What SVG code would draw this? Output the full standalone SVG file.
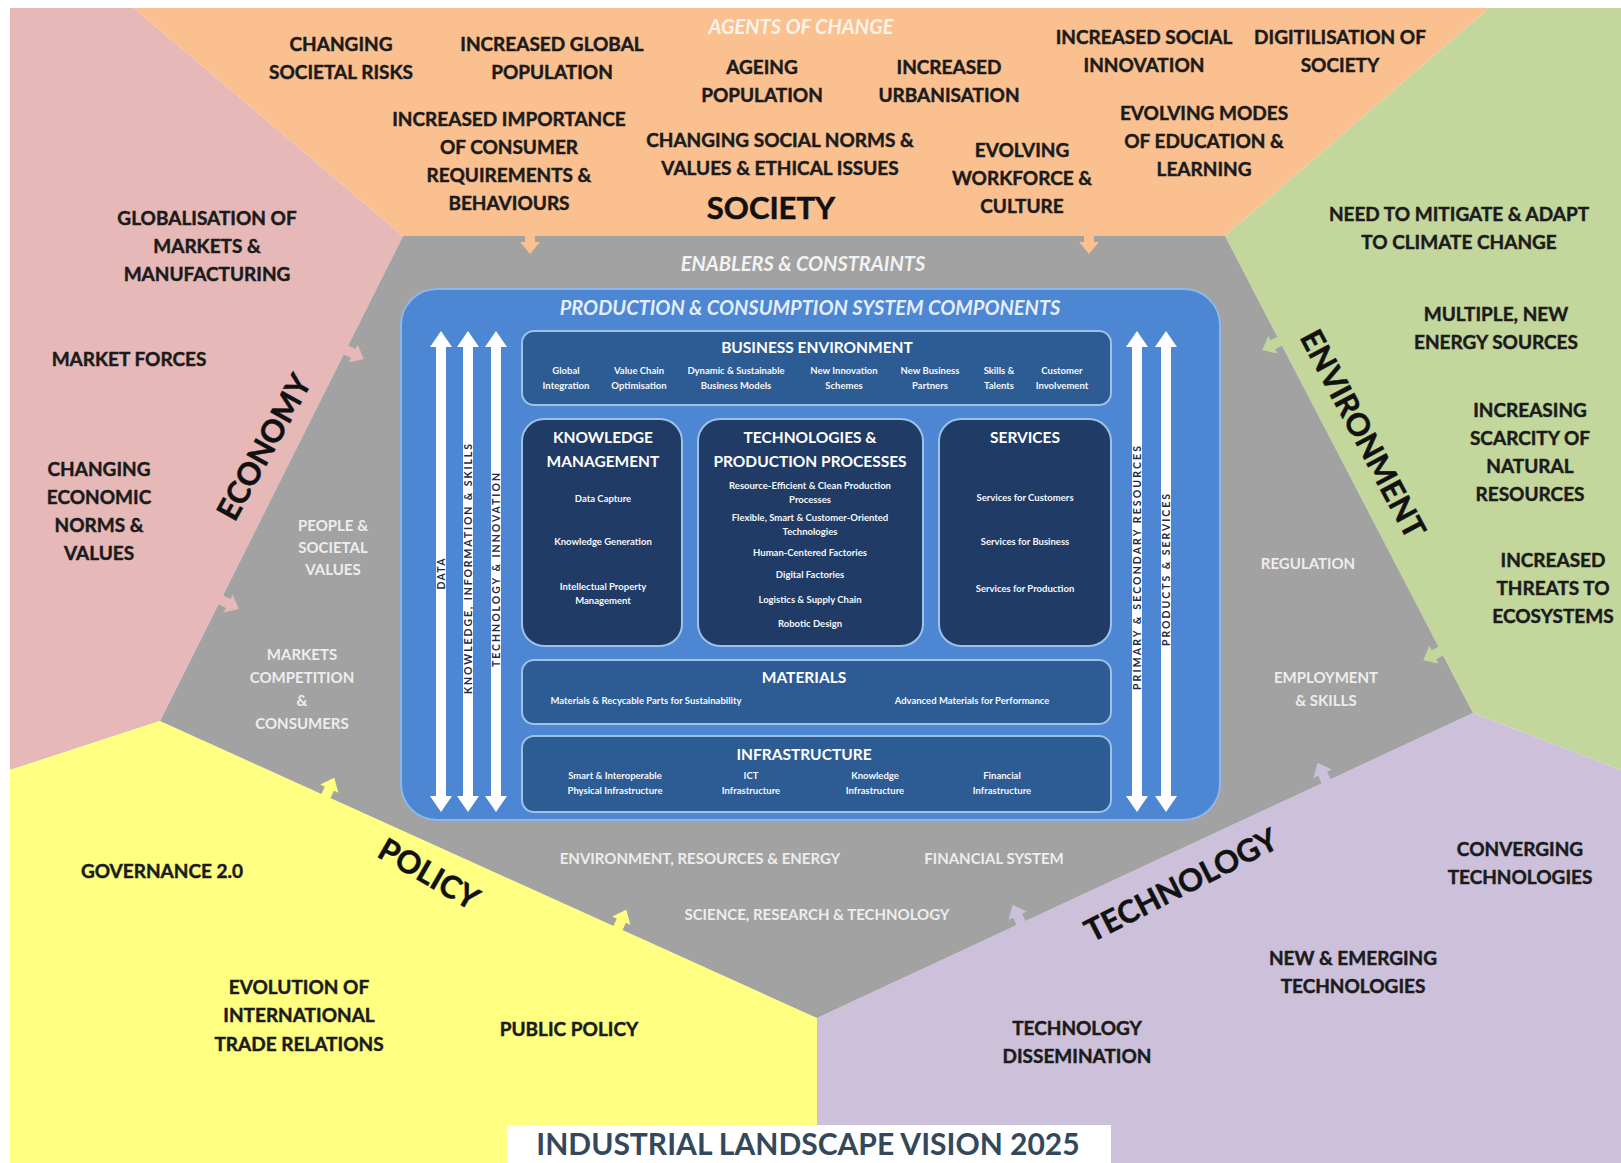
<svg xmlns="http://www.w3.org/2000/svg" width="1621" height="1163" viewBox="0 0 1621 1163">
<style>
text{font-family:Lato,"Liberation Sans",sans-serif;font-weight:700;text-anchor:middle}
.lbl{font-size:19px;fill:#1b1b1b;stroke:#1b1b1b;stroke-width:0.45}
.cat{font-size:31px;fill:#111;stroke:#111;stroke-width:0.5}
.gl{font-size:15px;fill:#ededed}
.it{font-style:italic;font-size:20px}
.bh{font-size:15.5px;fill:#fff}
.bi{font-size:9.5px;fill:#f4f7fb}
.al{font-size:10.5px;fill:#1d2b45}
.inA{fill:#2d5b94;stroke:#9cc2e8;stroke-width:2}
.inB{fill:#1f3b66;stroke:#9cc2e8;stroke-width:2}
.dbl{fill:#fff}
</style>
<defs>
<path id="dArrow" d="M0,0 L11,16 L5,16 L5,465 L11,465 L0,481 L-11,465 L-5,465 L-5,16 L-11,16 Z"/>
<path id="bArrow" d="M-6,-5 L8,-5 L8,-10 L20,0 L8,10 L8,5 L-6,5 Z"/>
</defs>
<rect width="1621" height="1163" fill="#fff"/>
<g id="economy">
<polygon points="10,8 134,8 403,236 160,721 10,770" fill="#e6b9b8"/>
<text class="lbl" x="207" y="225">GLOBALISATION OF</text>
<text class="lbl" x="207" y="253">MARKETS &amp;</text>
<text class="lbl" x="207" y="281">MANUFACTURING</text>
<text class="lbl" x="129" y="366">MARKET FORCES</text>
<text class="lbl" x="99" y="476">CHANGING</text>
<text class="lbl" x="99" y="504">ECONOMIC</text>
<text class="lbl" x="99" y="532">NORMS &amp;</text>
<text class="lbl" x="99" y="560">VALUES</text>
<text class="cat" transform="translate(264,447) rotate(-61)" y="11">ECONOMY</text>
</g>
<g id="society">
<polygon points="134,8 1489,8 1225,236 403,236" fill="#fac090"/>
<text class="it" x="801" y="34" fill="#fdf3ea">AGENTS OF CHANGE</text>
<text class="lbl" x="341" y="51">CHANGING</text>
<text class="lbl" x="341" y="79">SOCIETAL RISKS</text>
<text class="lbl" x="552" y="51">INCREASED GLOBAL</text>
<text class="lbl" x="552" y="79">POPULATION</text>
<text class="lbl" x="762" y="74">AGEING</text>
<text class="lbl" x="762" y="102">POPULATION</text>
<text class="lbl" x="949" y="74">INCREASED</text>
<text class="lbl" x="949" y="102">URBANISATION</text>
<text class="lbl" x="1144" y="44">INCREASED SOCIAL</text>
<text class="lbl" x="1144" y="72">INNOVATION</text>
<text class="lbl" x="1340" y="44">DIGITILISATION OF</text>
<text class="lbl" x="1340" y="72">SOCIETY</text>
<text class="lbl" x="509" y="126">INCREASED IMPORTANCE</text>
<text class="lbl" x="509" y="154">OF CONSUMER</text>
<text class="lbl" x="509" y="182">REQUIREMENTS &amp;</text>
<text class="lbl" x="509" y="210">BEHAVIOURS</text>
<text class="lbl" x="780" y="147">CHANGING SOCIAL NORMS &amp;</text>
<text class="lbl" x="780" y="175">VALUES &amp; ETHICAL ISSUES</text>
<text class="lbl" x="1022" y="157">EVOLVING</text>
<text class="lbl" x="1022" y="185">WORKFORCE &amp;</text>
<text class="lbl" x="1022" y="213">CULTURE</text>
<text class="lbl" x="1204" y="120">EVOLVING MODES</text>
<text class="lbl" x="1204" y="148">OF EDUCATION &amp;</text>
<text class="lbl" x="1204" y="176">LEARNING</text>
<text class="cat" x="771" y="219" font-size="30">SOCIETY</text>
</g>
<g id="environment">
<polygon points="1489,8 1621,8 1621,770 1473,713 1225,236" fill="#c3d69b"/>
<text class="lbl" x="1459" y="221">NEED TO MITIGATE &amp; ADAPT</text>
<text class="lbl" x="1459" y="249">TO CLIMATE CHANGE</text>
<text class="lbl" x="1496" y="321">MULTIPLE, NEW</text>
<text class="lbl" x="1496" y="349">ENERGY SOURCES</text>
<text class="lbl" x="1530" y="417">INCREASING</text>
<text class="lbl" x="1530" y="445">SCARCITY OF</text>
<text class="lbl" x="1530" y="473">NATURAL</text>
<text class="lbl" x="1530" y="501">RESOURCES</text>
<text class="lbl" x="1553" y="567">INCREASED</text>
<text class="lbl" x="1553" y="595">THREATS TO</text>
<text class="lbl" x="1553" y="623">ECOSYSTEMS</text>
<text class="cat" transform="translate(1363,434) rotate(62)" y="11">ENVIRONMENT</text>
</g>
<g id="policy">
<polygon points="10,770 160,721 817,1018 817,1163 10,1163" fill="#ffff82"/>
<text class="lbl" x="162" y="878">GOVERNANCE 2.0</text>
<text class="lbl" x="299" y="994">EVOLUTION OF</text>
<text class="lbl" x="299" y="1022">INTERNATIONAL</text>
<text class="lbl" x="299" y="1051">TRADE RELATIONS</text>
<text class="lbl" x="569" y="1036">PUBLIC POLICY</text>
<text class="cat" transform="translate(429,874) rotate(30)" y="11">POLICY</text>
</g>
<g id="technology">
<polygon points="817,1018 1473,713 1621,770 1621,1163 817,1163" fill="#ccc0da"/>
<text class="lbl" x="1520" y="856">CONVERGING</text>
<text class="lbl" x="1520" y="884">TECHNOLOGIES</text>
<text class="lbl" x="1353" y="965">NEW &amp; EMERGING</text>
<text class="lbl" x="1353" y="993">TECHNOLOGIES</text>
<text class="lbl" x="1077" y="1035">TECHNOLOGY</text>
<text class="lbl" x="1077" y="1063">DISSEMINATION</text>
<text class="cat" transform="translate(1181,885) rotate(-27)" y="11">TECHNOLOGY</text>
</g>
<g id="enablers">
<polygon points="403,236 1225,236 1473,713 817,1018 160,721" fill="#a2a2a2"/>
<text class="it" x="803" y="271" fill="#f2f2f2">ENABLERS &amp; CONSTRAINTS</text>
<text class="gl" x="333" y="531">PEOPLE &amp;</text>
<text class="gl" x="333" y="553">SOCIETAL</text>
<text class="gl" x="333" y="575">VALUES</text>
<text class="gl" x="302" y="660">MARKETS</text>
<text class="gl" x="302" y="683">COMPETITION</text>
<text class="gl" x="302" y="706">&amp;</text>
<text class="gl" x="302" y="729">CONSUMERS</text>
<text class="gl" x="1308" y="569">REGULATION</text>
<text class="gl" x="1326" y="683">EMPLOYMENT</text>
<text class="gl" x="1326" y="706">&amp; SKILLS</text>
<text class="gl" x="700" y="864">ENVIRONMENT, RESOURCES &amp; ENERGY</text>
<text class="gl" x="994" y="864">FINANCIAL SYSTEM</text>
<text class="gl" x="817" y="920">SCIENCE, RESEARCH &amp; TECHNOLOGY</text>
</g>
<g id="system">
<rect x="401" y="289" width="819" height="531" rx="36" fill="#4d86d2" stroke="#8fb6e6" stroke-width="2"/>
<text class="it" x="810" y="315" fill="#e3eefb">PRODUCTION &amp; CONSUMPTION SYSTEM COMPONENTS</text>
</g>
<g id="business-environment">
<rect class="inA" x="522" y="331" width="589" height="74" rx="12"/>
<text class="bh" x="817" y="353">BUSINESS ENVIRONMENT</text>
<text class="bi" x="566" y="373.5">Global</text><text class="bi" x="566" y="388.5">Integration</text>
<text class="bi" x="639" y="373.5">Value Chain</text><text class="bi" x="639" y="388.5">Optimisation</text>
<text class="bi" x="736" y="373.5">Dynamic &amp; Sustainable</text><text class="bi" x="736" y="388.5">Business Models</text>
<text class="bi" x="844" y="373.5">New Innovation</text><text class="bi" x="844" y="388.5">Schemes</text>
<text class="bi" x="930" y="373.5">New Business</text><text class="bi" x="930" y="388.5">Partners</text>
<text class="bi" x="999" y="373.5">Skills &amp;</text><text class="bi" x="999" y="388.5">Talents</text>
<text class="bi" x="1062" y="373.5">Customer</text><text class="bi" x="1062" y="388.5">Involvement</text>
</g>
<g id="knowledge-management">
<rect class="inB" x="522" y="419" width="160" height="227" rx="22"/>
<text class="bh" x="603" y="443">KNOWLEDGE</text>
<text class="bh" x="603" y="467">MANAGEMENT</text>
<text class="bi" x="603" y="501.5">Data Capture</text>
<text class="bi" x="603" y="544.5">Knowledge Generation</text>
<text class="bi" x="603" y="589.5">Intellectual Property</text>
<text class="bi" x="603" y="603.5">Management</text>
</g>
<g id="technologies-production">
<rect class="inB" x="698" y="419" width="225" height="227" rx="22"/>
<text class="bh" x="810" y="443">TECHNOLOGIES &amp;</text>
<text class="bh" x="810" y="467">PRODUCTION PROCESSES</text>
<text class="bi" x="810" y="488.5">Resource-Efficient &amp; Clean Production</text>
<text class="bi" x="810" y="502.5">Processes</text>
<text class="bi" x="810" y="520.5">Flexible, Smart &amp; Customer-Oriented</text>
<text class="bi" x="810" y="534.5">Technologies</text>
<text class="bi" x="810" y="555.5">Human-Centered Factories</text>
<text class="bi" x="810" y="577.5">Digital Factories</text>
<text class="bi" x="810" y="602.5">Logistics &amp; Supply Chain</text>
<text class="bi" x="810" y="626.5">Robotic Design</text>
</g>
<g id="services">
<rect class="inB" x="939" y="419" width="172" height="227" rx="22"/>
<text class="bh" x="1025" y="443">SERVICES</text>
<text class="bi" x="1025" y="500.5">Services for Customers</text>
<text class="bi" x="1025" y="544.5">Services for Business</text>
<text class="bi" x="1025" y="591.5">Services for Production</text>
</g>
<g id="materials">
<rect class="inA" x="522" y="660" width="589" height="64" rx="12"/>
<text class="bh" x="804" y="682.5">MATERIALS</text>
<text class="bi" x="646" y="703.5">Materials &amp; Recycable Parts for Sustainability</text>
<text class="bi" x="972" y="703.5">Advanced Materials for Performance</text>
</g>
<g id="infrastructure">
<rect class="inA" x="522" y="736" width="589" height="76" rx="12"/>
<text class="bh" x="804" y="759.5">INFRASTRUCTURE</text>
<text class="bi" x="615" y="778.5">Smart &amp; Interoperable</text><text class="bi" x="615" y="793.5">Physical Infrastructure</text>
<text class="bi" x="751" y="778.5">ICT</text><text class="bi" x="751" y="793.5">Infrastructure</text>
<text class="bi" x="875" y="778.5">Knowledge</text><text class="bi" x="875" y="793.5">Infrastructure</text>
<text class="bi" x="1002" y="778.5">Financial</text><text class="bi" x="1002" y="793.5">Infrastructure</text>
</g>
<g id="connectors">
<use href="#dArrow" x="441" y="331" class="dbl"/>
<use href="#dArrow" x="468" y="331" class="dbl"/>
<use href="#dArrow" x="496" y="331" class="dbl"/>
<use href="#dArrow" x="1137" y="331" class="dbl"/>
<use href="#dArrow" x="1166" y="331" class="dbl"/>
<text class="al" transform="translate(441,574) rotate(-90)" y="3.7" textLength="31" lengthAdjust="spacing">DATA</text>
<text class="al" transform="translate(468,569) rotate(-90)" y="3.7" textLength="250" lengthAdjust="spacing">KNOWLEDGE, INFORMATION &amp; SKILLS</text>
<text class="al" transform="translate(496,570) rotate(-90)" y="3.7" textLength="194" lengthAdjust="spacing">TECHNOLOGY &amp; INNOVATION</text>
<text class="al" transform="translate(1137,568) rotate(-90)" y="3.7" textLength="244" lengthAdjust="spacing">PRIMARY &amp; SECONDARY RESOURCES</text>
<text class="al" transform="translate(1166,570) rotate(-90)" y="3.7" textLength="152" lengthAdjust="spacing">PRODUCTS &amp; SERVICES</text>
<use href="#bArrow" fill="#fac090" transform="translate(530,234) rotate(90)"/>
<use href="#bArrow" fill="#fac090" transform="translate(1089,234) rotate(90)"/>
<use href="#bArrow" fill="#e6b9b8" transform="translate(346,350) rotate(26.6)"/>
<use href="#bArrow" fill="#e6b9b8" transform="translate(221,600) rotate(26.6)"/>
<use href="#bArrow" fill="#c3d69b" transform="translate(1280,341) rotate(152.5)"/>
<use href="#bArrow" fill="#c3d69b" transform="translate(1441,651) rotate(152.5)"/>
<use href="#bArrow" fill="#ffff82" transform="translate(326,796) rotate(-65.6)"/>
<use href="#bArrow" fill="#ffff82" transform="translate(618,928) rotate(-65.6)"/>
<use href="#bArrow" fill="#ccc0da" transform="translate(1326,781) rotate(-114.9)"/>
<use href="#bArrow" fill="#ccc0da" transform="translate(1021,923) rotate(-114.9)"/>
</g>
<g id="title">
<rect x="507" y="1125" width="604" height="38" fill="#fff"/>
<text x="808" y="1155" font-size="30" font-weight="400" fill="#34485c">INDUSTRIAL LANDSCAPE VISION 2025</text>
</g>
</svg>
